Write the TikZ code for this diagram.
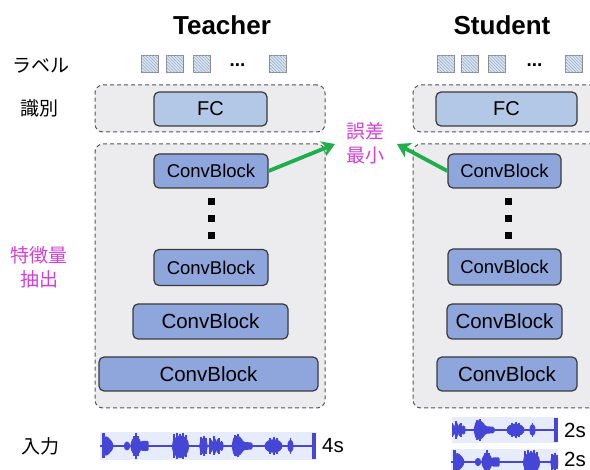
\documentclass[tikz,border=0pt]{standalone}
\usepackage{fontspec}
\setmainfont{Liberation Sans}
\newfontfamily\jpfont{Noto Sans CJK JP}
\usetikzlibrary{arrows.meta,patterns.meta}

\definecolor{panelfill}{HTML}{ECECEE}
\definecolor{paneledge}{HTML}{555555}
\definecolor{fcfill}{HTML}{B3C7E6}
\definecolor{convfill}{HTML}{8EA6DC}
\definecolor{nodeedge}{HTML}{3A3A3A}
\definecolor{magentatxt}{HTML}{D040D8}
\definecolor{arrowgreen}{HTML}{1FAE4A}
\definecolor{tagfill}{HTML}{DCE6F2}
\definecolor{taghatch}{HTML}{98AECB}
\definecolor{tagedge}{HTML}{8A8A8A}
\definecolor{wavebg}{HTML}{E6ECFB}
\definecolor{wavecol}{HTML}{4646D6}

% one speech waveform, 216 units long, centred on y = 0
\newcommand\wavesig{%
  \draw[wavecol, line width=1.2pt] (0,0) -- (216,0);
  % onset burst
  \fill[wavecol] (1.5,-12.5) rectangle (5,12.5);
  \fill[wavecol, rounded corners=1pt] (5,-10) -- (8,-9) -- (12.5,-4) -- (13.5,0) -- (12.5,4) -- (8,9) -- (5,10) -- cycle;
  % short syllables
  \fill[wavecol] (27,0) ellipse[x radius=3.2, y radius=4.5];
  \fill[wavecol] (36,0) ellipse[x radius=5.5, y radius=9];
  \fill[wavecol, rounded corners=1pt] (41,-5) rectangle (48.5,5);
  % long vowel
  \fill[wavecol] (72,0) .. controls (72,-14) and (89,-14) .. (89,0)
                 .. controls (89,16) and (72,16) .. (72,0) -- cycle;
  % consonant cluster
  \fill[wavecol] (103.5,0) ellipse[x radius=4.2, y radius=8];
  \foreach \cx/\ry in {111/6.5, 114.5/8, 118/7, 121.5/5}
    \fill[wavecol] (\cx,0) ellipse[x radius=2.2, y radius=\ry];
  % rising syllable with tail
  \fill[wavecol, rounded corners=1.5pt] (131.5,0) -- (133.5,-9) -- (137,-11) -- (141.5,-8) -- (143.5,-4)
      -- (152.5,-3.5) -- (152.5,3.5) -- (143.5,4) -- (141.5,8) -- (137,11) -- (133.5,9) -- cycle;
  \fill[wavecol] (173.5,0) ellipse[x radius=9, y radius=6.8];
  \fill[wavecol] (190.5,0) ellipse[x radius=3, y radius=6.5];
  % final burst
  \fill[wavecol] (212,-13) rectangle (216,13);
  % fine spikes
  \foreach \sx/\sh in {34/10, 36/13, 38/10, 74/12, 77/13, 80/12, 83/13, 86/11, 101/9,
      104/10, 106/8, 110/8, 114/9.5, 119/8, 135/10.5, 138/11.5, 170/8, 174/9, 177/8, 190.5/8}
    \draw[wavecol, line width=1.2pt] (\sx,-\sh) -- (\sx,\sh);
}

\tikzset{
  panel/.style={draw=paneledge, fill=panelfill, line width=1pt,
    dash pattern=on 4pt off 3pt, rounded corners=8pt, inner sep=0pt},
  fcbox/.style={draw=nodeedge, fill=fcfill, line width=1.2pt, rounded corners=5pt,
    inner sep=0pt, font=\fontsize{20}{20}\selectfont},
  convbox/.style={draw=nodeedge, fill=convfill, line width=1.2pt, rounded corners=5pt,
    inner sep=0pt},
  smalltxt/.style={font=\fontsize{18.5}{18.5}\selectfont},
  bigtxt/.style={font=\fontsize{20.5}{20.5}\selectfont},
  jplabel/.style={font=\jpfont\fontsize{19}{24}\selectfont, align=center, inner sep=0pt},
  pinklabel/.style={jplabel, text=magentatxt},
  headline/.style={font=\bfseries\fontsize{26}{26}\selectfont, anchor=base, inner sep=0pt},
  tag/.style={draw=tagedge, fill=tagfill, line width=1pt, minimum size=17pt, inner sep=0pt,
    postaction={pattern={Lines[angle=-45, distance=2.2pt, line width=0.6pt]},
      pattern color=taghatch}},
  tagdots/.style={font=\bfseries\fontsize{19}{19}\selectfont, inner sep=0pt},
  stackdot/.style={fill=black},
  garrow/.style={draw=arrowgreen, line width=3.8pt,
    -{Stealth[length=13pt, width=16pt, inset=4pt]}},
  secs/.style={font=\fontsize{20.5}{20.5}\selectfont, anchor=west, inner sep=0pt},
}

\begin{document}
\begin{tikzpicture}[x=1pt, y=-1pt]
\clip (0,0) rectangle (590,470);

% ---------- headings ----------
\node[headline] (tname) at (222,35) {Teacher};
\node[headline] (sname) at (502,35) {Student};

% ---------- row labels ----------
\node[jplabel] (lbl)  at (41,66)  {ラベル};
\node[jplabel] (cls)  at (39,108) {識別};
\node[pinklabel] (feat) at (39,267) {特徴量\\抽出};
\node[jplabel] (inp)  at (40,446) {入力};
\node[pinklabel] (err) at (365,143) {誤差\\最小};

% ---------- teacher column ----------
\node[tag] (tt1) at (149.5,64.5) {};
\node[tag] (tt2) at (174.5,64.5) {};
\node[tag] (tt3) at (201.5,64.5) {};
\node[tagdots] (ttd) at (237.5,65) {...};
\node[tag] (tt4) at (278,64.5) {};

\node[panel, minimum width=230pt, minimum height=47pt] (tcls) at (210,108.5) {};
\node[panel, minimum width=230pt, minimum height=264pt] (tfeat) at (210,276) {};

\node[fcbox, minimum width=113pt, minimum height=34pt] (tfc) at (210.5,109) {FC};
\node[convbox, smalltxt, minimum width=114pt, minimum height=34pt] (tc1) at (211,171) {ConvBlock};
\node[convbox, smalltxt, minimum width=114pt, minimum height=36pt] (tc2) at (211,267.5) {ConvBlock};
\node[convbox, bigtxt, minimum width=155pt, minimum height=35pt] (tc3) at (210.5,321.5) {ConvBlock};
\node[convbox, bigtxt, minimum width=219pt, minimum height=34pt] (tc4) at (208.5,374) {ConvBlock};
\foreach \yy in {202,219,236}
  \fill[stackdot] (207.5,\yy-3.5) rectangle (214.5,\yy+3.5);

% teacher input: 4 s of speech
\fill[wavebg] (100,432) rectangle (316,460);
\begin{scope}[shift={(100,446)}]
  \wavesig
\end{scope}
\node[secs] (t4s) at (322,446) {4s};

% ---------- student column ----------
\node[tag] (st1) at (445.5,64.5) {};
\node[tag] (st2) at (469.5,64.5) {};
\node[tag] (st3) at (497,64.5) {};
\node[tagdots] (std) at (534.5,65) {...};
\node[tag] (st4) at (573.5,64.5) {};

\node[panel, minimum width=188pt, minimum height=47pt] (scls) at (507,108.5) {};
\node[panel, minimum width=188pt, minimum height=264pt] (sfeat) at (507,276) {};

\node[fcbox, minimum width=141pt, minimum height=34pt] (sfc) at (506.5,109) {FC};
\node[convbox, smalltxt, minimum width=113pt, minimum height=34pt] (sc1) at (504.5,171) {ConvBlock};
\node[convbox, smalltxt, minimum width=113pt, minimum height=36pt] (sc2) at (504.5,267) {ConvBlock};
\node[convbox, bigtxt, minimum width=115pt, minimum height=35pt] (sc3) at (504.5,321.5) {ConvBlock};
\node[convbox, bigtxt, minimum width=140pt, minimum height=34pt] (sc4) at (507,374) {ConvBlock};
\foreach \yy in {202,219,236}
  \fill[stackdot] (504.5,\yy-3.5) rectangle (511.5,\yy+3.5);

% student inputs: two 2 s crops of the same speech
\begin{scope}[shift={(342,430)}, yscale=0.93]
  \fill[wavebg] (110,-14) rectangle (216,14);
  \clip (110,-14) rectangle (216,14);
  \wavesig
\end{scope}
\node[secs] (s2a) at (564,430) {2s};
\begin{scope}[shift={(451,462)}, yscale=0.93]
  \fill[wavebg] (0,-14) rectangle (107,14);
  \clip (0,-14) rectangle (107,14);
  \wavesig
\end{scope}
\node[secs] (s2b) at (564,459) {2s};

% ---------- feature matching arrows ----------
\coordinate (tipT) at (335,144);
\coordinate (tipS) at (397,144);
\draw[garrow] (tc1.east) -- (tipT);
\draw[garrow] (sc1.west) -- (tipS);
\end{tikzpicture}
\end{document}
